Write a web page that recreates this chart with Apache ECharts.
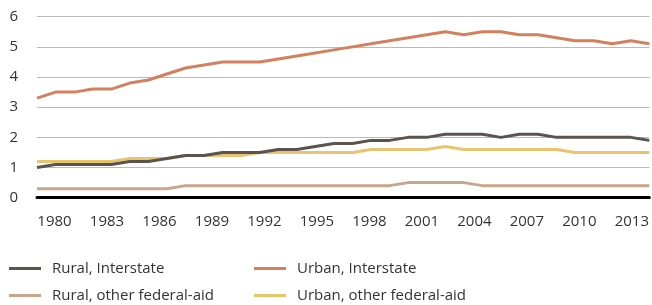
<!DOCTYPE html>
<html>
<head>
<meta charset="utf-8">
<script src="https://cdn.jsdelivr.net/npm/echarts@6/dist/echarts.min.js"></script>
<style>
  html, body { margin: 0; padding: 0; background: #fff; }
  #chart { width: 652px; height: 305px; }
</style>
</head>
<body>
<div id="chart"></div>
<script>
// data points (one per year) and the axis label years
var years = [];
for (var y = 1980; y <= 2013; y++) years.push(String(y));
var labelYears = [];
for (var y2 = 1979; y2 <= 2014; y2++) labelYears.push(String(y2));

var ruralInterstate = [1.0,1.1,1.1,1.1,1.1,1.2,1.2,1.3,1.4,1.4,1.5,1.5,1.5,1.6,1.6,1.7,1.8,1.8,1.9,1.9,2.0,2.0,2.1,2.1,2.1,2.0,2.1,2.1,2.0,2.0,2.0,2.0,2.0,1.9];
var urbanInterstate = [3.3,3.5,3.5,3.6,3.6,3.8,3.9,4.1,4.3,4.4,4.5,4.5,4.5,4.6,4.7,4.8,4.9,5.0,5.1,5.2,5.3,5.4,5.5,5.4,5.5,5.5,5.4,5.4,5.3,5.2,5.2,5.1,5.2,5.1];
var ruralOther = [0.3,0.3,0.3,0.3,0.3,0.3,0.3,0.3,0.4,0.4,0.4,0.4,0.4,0.4,0.4,0.4,0.4,0.4,0.4,0.4,0.5,0.5,0.5,0.5,0.4,0.4,0.4,0.4,0.4,0.4,0.4,0.4,0.4,0.4];
var urbanOther = [1.2,1.2,1.2,1.2,1.2,1.3,1.3,1.3,1.4,1.4,1.4,1.4,1.5,1.5,1.5,1.5,1.5,1.5,1.6,1.6,1.6,1.6,1.7,1.6,1.6,1.6,1.6,1.6,1.6,1.5,1.5,1.5,1.5,1.5];

var names = ['Rural, Interstate', 'Urban, Interstate', 'Rural, other federal-aid', 'Urban, other federal-aid'];
var colors = ['#5b534e', '#d4805f', '#c9a68a', '#e9c46f'];

var fontFam = '"Open Sans", "Noto Sans", sans-serif';
var chart = echarts.init(document.getElementById('chart'));

function lineSeries(i, data, z) {
  return {
    name: names[i],
    type: 'line',
    data: data,
    xAxisIndex: 0,
    showSymbol: false,
    symbol: 'none',
    animation: false,
    z: z,
    lineStyle: { color: colors[i], width: 3 },
    itemStyle: { color: colors[i] }
  };
}

var legendBase = {
  orient: 'vertical',
  top: 261,
  padding: 0,
  height: 44,
  icon: 'rect',
  itemWidth: 32,
  itemHeight: 3,
  itemGap: 12,
  textStyle: { fontFamily: fontFam, fontSize: 15, color: '#333', lineHeight: 15, padding: [0, 0, 0, 6] }
};

chart.setOption({
  animation: false,
  grid: { left: 37, right: 0, top: 16.7, bottom: 107.3 },
  legend: [
    Object.assign({}, legendBase, { left: 9, data: [names[0], names[2]] }),
    Object.assign({}, legendBase, { left: 254, data: [names[1], names[3]] })
  ],
  xAxis: [
    {
      type: 'category',
      data: years,
      boundaryGap: false,
      axisLine: { show: true, lineStyle: { color: '#000', width: 3 } },
      axisTick: { show: false },
      axisLabel: { show: false },
      z: 10
    },
    {
      type: 'category',
      data: labelYears,
      position: 'bottom',
      boundaryGap: false,
      axisLine: { show: false },
      axisTick: { show: false },
      axisLabel: {
        interval: function (idx) { return idx % 3 === 1; },
        margin: 17,
        fontFamily: fontFam,
        fontSize: 15,
        color: '#333'
      }
    }
  ],
  yAxis: {
    type: 'value',
    min: 0,
    max: 6,
    interval: 1,
    axisLine: { show: false },
    axisTick: { show: false },
    axisLabel: { margin: 19, fontFamily: fontFam, fontSize: 15, color: '#333' },
    splitLine: { lineStyle: { color: '#b9b9b9', width: 1 } }
  },
  series: [
    lineSeries(0, ruralInterstate, 5),
    lineSeries(1, urbanInterstate, 3),
    lineSeries(2, ruralOther, 3),
    lineSeries(3, urbanOther, 2)
  ]
});
</script>
</body>
</html>
